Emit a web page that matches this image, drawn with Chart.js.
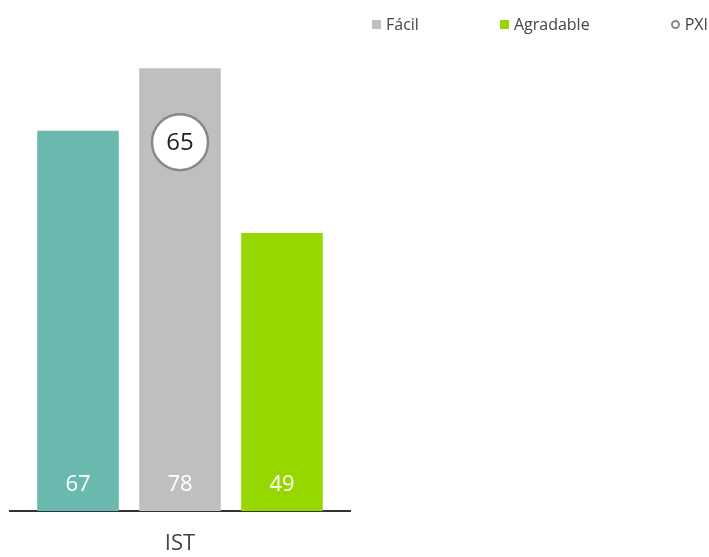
<!DOCTYPE html>
<html>
<head>
<meta charset="utf-8">
<script src="https://cdn.jsdelivr.net/npm/chart.js@4.4.1/dist/chart.umd.min.js"></script>
<style>
    html, body { margin: 0; padding: 0; background: #fff; }
    .wrap { position: relative; width: 709px; height: 557px; font-family: 'Open Sans', sans-serif; }
    #legend { position: absolute; top: 13px; left: 372px; display: flex; gap: 81px; font-size: 16px; line-height: 22px; color: #444; }
    #legend .item { display: flex; align-items: center; gap: 5px; white-space: nowrap; }
    #legend .box { width: 9px; height: 9px; box-sizing: border-box; }
    #legend .dot { width: 9px; height: 9px; box-sizing: border-box; border-radius: 50%; border: 2px solid #888; background: #fff; }
</style>
</head>
<body>
<div class="wrap">
    <canvas id="chart" width="709" height="557"></canvas>
    <div id="legend"></div>
</div>
<script>
// Scores per indicator
const categories = ['IST'];
const seriesNames = ['IST', 'Fácil', 'Agradable'];
const seriesValues = [67, 78, 49];
const seriesColors = ['#6ab9ae', '#bfbfbf', '#97d700'];
const pxiLabel = 'PXI';
const pxiValue = [65];

const datasets = seriesNames.map((name, i) => ({
    type: 'bar',
    label: name,
    data: [seriesValues[i]],
    backgroundColor: seriesColors[i],
    barPercentage: 0.8,
    categoryPercentage: 0.9,
    order: 1
}));

datasets.push({
    type: 'line',
    label: pxiLabel,
    data: pxiValue,
    showLine: false,
    pointRadius: 28,
    pointHoverRadius: 28,
    pointBackgroundColor: '#fff',
    pointBorderColor: '#888',
    pointBorderWidth: 2.5,
    order: 0
});

// Values written on the bars and inside the PXI marker
const valueLabels = {
    id: 'valueLabels',
    afterDatasetsDraw(chart) {
        const ctx = chart.ctx;
        ctx.save();
        ctx.textAlign = 'center';
        ctx.textBaseline = 'middle';
        chart.data.datasets.forEach((ds, i) => {
            const meta = chart.getDatasetMeta(i);
            meta.data.forEach((el, j) => {
                const v = ds.data[j];
                if (ds.type === 'bar') {
                    ctx.font = '22px "Open Sans"';
                    ctx.fillStyle = '#fff';
                    ctx.fillText(v, el.x, el.base - 26);
                } else {
                    ctx.font = '24px "Open Sans"';
                    ctx.fillStyle = '#222';
                    ctx.fillText(v, el.x, el.y + 1);
                }
            });
        });
        ctx.restore();
    }
};

// Legend built as html so the items can sit far apart
const htmlLegend = {
    id: 'htmlLegend',
    afterUpdate(chart) {
        const box = document.getElementById('legend');
        box.innerHTML = '';
        chart.data.datasets.forEach((ds, i) => {
            if (i === 0) return;
            const item = document.createElement('div');
            item.className = 'item';
            const mark = document.createElement('span');
            if (ds.type === 'line') {
                mark.className = 'dot';
            } else {
                mark.className = 'box';
                mark.style.background = ds.backgroundColor;
            }
            const text = document.createElement('span');
            text.textContent = ds.label;
            item.appendChild(mark);
            item.appendChild(text);
            box.appendChild(item);
        });
    }
};

new Chart(document.getElementById('chart'), {
    type: 'bar',
    data: {
        labels: categories,
        datasets: datasets
    },
    options: {
        responsive: false,
        animation: false,
        layout: {
            autoPadding: false,
            padding: { left: 10, right: 359, top: 57, bottom: 0 }
        },
        plugins: {
            legend: { display: false },
            tooltip: { enabled: false }
        },
        scales: {
            x: {
                grid: { display: false, drawTicks: false },
                border: { display: true, color: '#333', width: 2 },
                ticks: {
                    color: '#444',
                    padding: 20,
                    font: { family: 'Open Sans', size: 22 }
                },
                afterFit(scale) {
                    scale.height = 46;
                }
            },
            y: {
                display: false,
                min: 0,
                max: 80
            }
        }
    },
    plugins: [valueLabels, htmlLegend]
});
</script>
</body>
</html>
